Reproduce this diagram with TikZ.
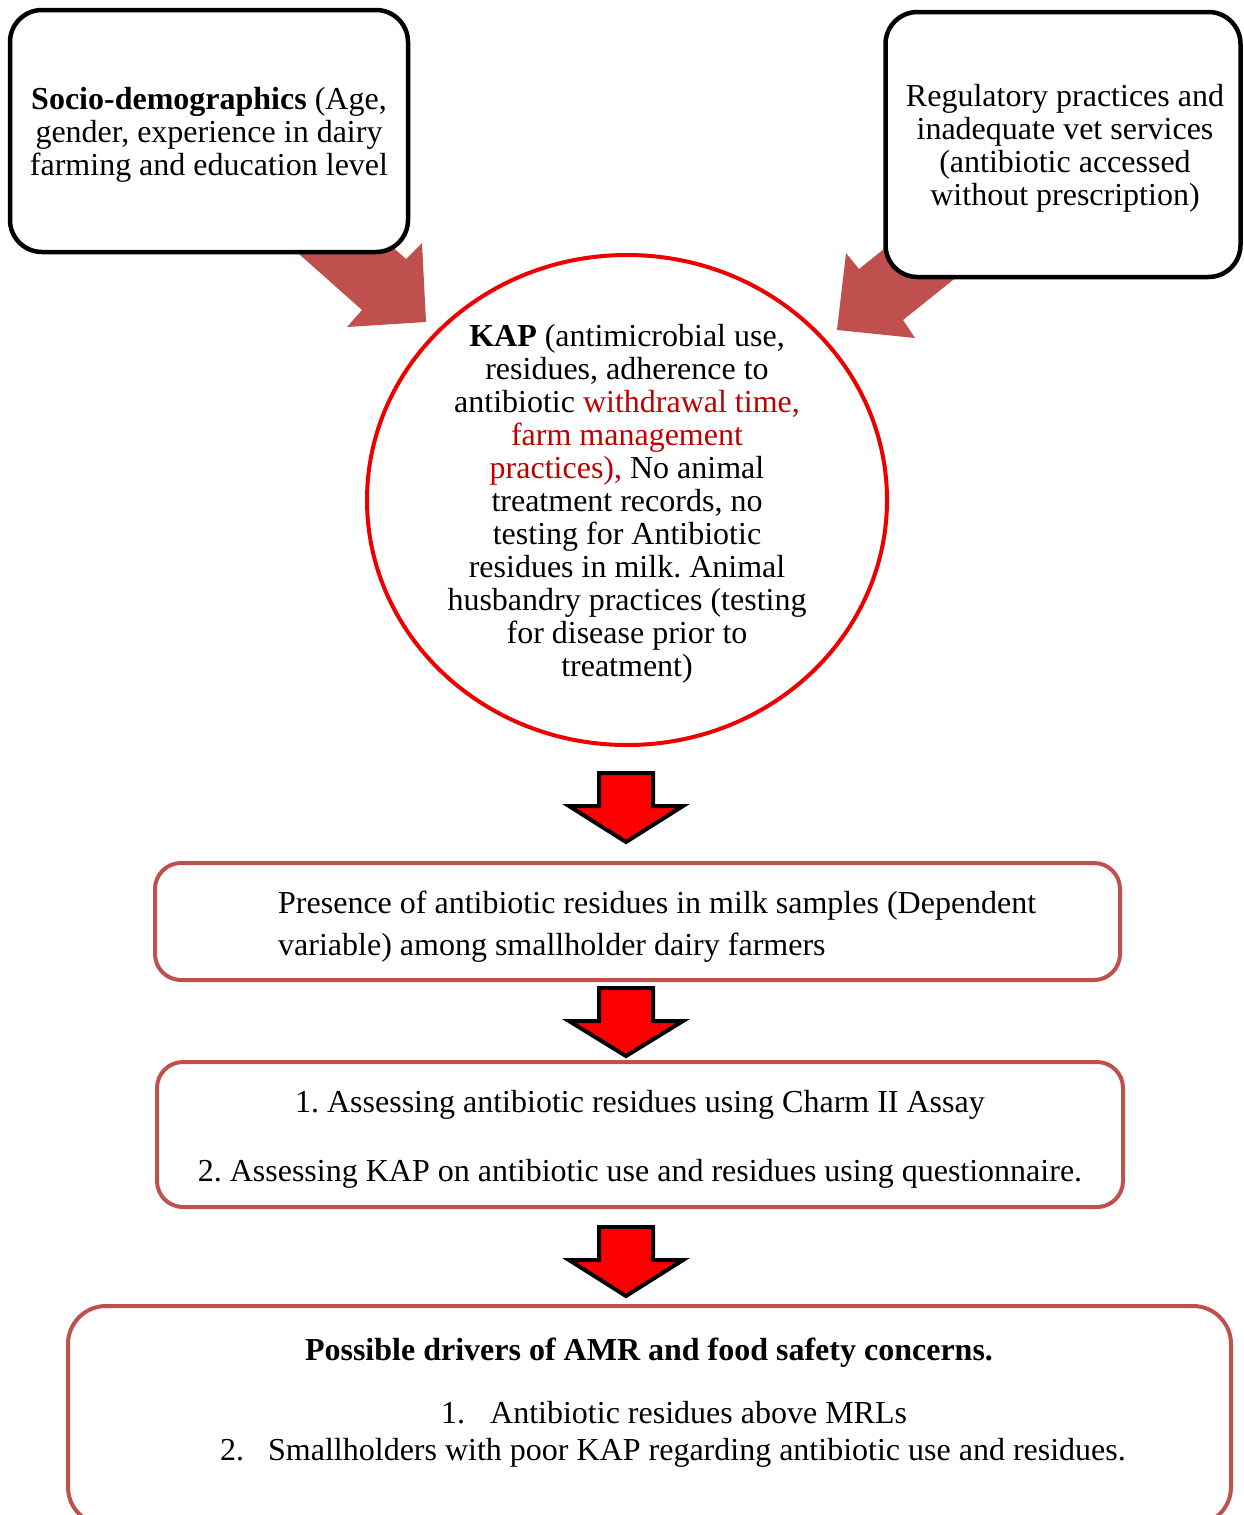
\documentclass[tikz,border=0pt]{standalone}
\usepackage{fontspec}
\setmainfont{Liberation Serif}
\usetikzlibrary{shapes.geometric}
\definecolor{brick}{HTML}{C0504D}
\definecolor{dkred}{HTML}{C00000}
\definecolor{circred}{HTML}{EE0000}
\frenchspacing
\begin{document}
\begin{tikzpicture}[x=1pt,y=-1pt,
  every node/.style={font=\fontsize{32}{33}\selectfont, inner sep=0pt},
  blackbox/.style={draw=black, line width=4.5pt, rounded corners=32pt, fill=white},
  redbox/.style={draw=brick, line width=4pt, rounded corners=26pt, fill=white},
  bigarrow/.style={fill=brick},
  downarr/.style={draw=black, line width=4pt, fill=red, line join=miter}]
\useasboundingbox (0,0) rectangle (1244,1515);
\clip (0,0) rectangle (1244,1515);

% diagonal block arrows
\fill[bigarrow] (290,246) -- (362,310) -- (347,327) -- (426,322) -- (422,243) -- (406,259) -- (344,204) -- cycle;
\fill[bigarrow] (929,213) -- (859,269) -- (846,253) -- (837,330) -- (915,338) -- (903,320) -- (963,272) -- cycle;

% top boxes
\node[blackbox, minimum width=398pt, minimum height=242pt] (socio) at (209,131) {};
\node[align=center] (sociotext) at (209,135)
  {\textbf{Socio-demographics} (Age,\\ gender, experience in dairy\\ farming and education level};
\node[blackbox, minimum width=355pt, minimum height=265pt] (reg) at (1063,144.5) {};
\node[align=center] (regtext) at (1065,148.5)
  {Regulatory practices and\\ inadequate vet services\\ (antibiotic accessed\\ without prescription)};

% KAP circle
\node[ellipse, draw=circred, line width=4pt, minimum width=520pt, minimum height=490pt] (kap) at (627,500) {};
\node[align=center] (kaptext) at (627,504)
  {\textbf{KAP} (antimicrobial use,\\ residues, adherence to\\ antibiotic \textcolor{dkred}{withdrawal time,}\\
   \textcolor{dkred}{farm management}\\ \textcolor{dkred}{practices),} No animal\\ treatment records, no\\
   testing for Antibiotic\\ residues in milk. Animal\\ husbandry practices (testing\\ for disease prior to\\ treatment)};

% down arrows
\draw[downarr] (599,773) -- (653,773) -- (653,806) -- (683,806) -- (626,842) -- (569,806) -- (599,806) -- cycle;
\draw[downarr] (599,988) -- (653,988) -- (653,1021) -- (683,1021) -- (626,1056) -- (569,1021) -- (599,1021) -- cycle;
\draw[downarr] (599,1227) -- (653,1227) -- (653,1260) -- (683,1260) -- (626,1296) -- (569,1260) -- (599,1260) -- cycle;

% dependent variable box
\node[redbox, minimum width=965pt, minimum height=117pt] (dep) at (637.5,921.5) {};
\node[anchor=west, align=left, font=\fontsize{32}{42}\selectfont] (deptext) at (278,927)
  {Presence of antibiotic residues in milk samples (Dependent\\ variable) among smallholder dairy farmers};

% methods box
\node[redbox, minimum width=966pt, minimum height=145pt] (meth) at (640,1134.5) {};
\node[align=center] (methtext) at (640,1139.5)
  {1. Assessing antibiotic residues using Charm II Assay\\[36pt] 2. Assessing KAP on antibiotic use and residues using questionnaire.};

% drivers box
\node[redbox, rounded corners=38pt, minimum width=1163pt, minimum height=219pt] (drv) at (649.5,1415.5) {};
\node[anchor=base] (drvtitle) at (649,1360) {\textbf{Possible drivers of AMR and food safety concerns.}};
\node[anchor=base west] (drv1num) at (441,1423) {1.};
\node[anchor=base west] (drv1) at (490,1423) {Antibiotic residues above MRLs};
\node[anchor=base west] (drv2num) at (220,1460) {2.};
\node[anchor=base west] (drv2) at (268,1460) {Smallholders with poor KAP regarding antibiotic use and residues.};
\end{tikzpicture}
\end{document}
